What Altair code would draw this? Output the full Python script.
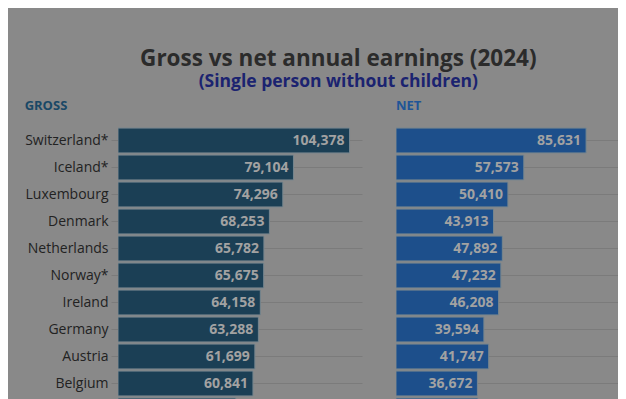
import altair as alt
import pandas as pd

countries = ["Switzerland*", "Iceland*", "Luxembourg", "Denmark", "Netherlands",
             "Norway*", "Ireland", "Germany", "Austria", "Belgium", "Finland"]
gross = [104378, 79104, 74296, 68253, 65782, 65675, 64158, 63288, 61699, 60841, 53100]
net = [85631, 57573, 50410, 43913, 47892, 47232, 46208, 39594, 41747, 36672, 36900]

df = pd.DataFrame({"country": countries, "gross": gross, "net": net})
df["gross_lbl"] = [f"{v:,}" for v in gross]
df["net_lbl"] = [f"{v:,}" for v in net]

FONT = "Open Sans"
BG = "#898989"
GRID = "#7b7b7b"
H = 297


def panel(field, lbl, color, header, header_color, show_labels, width, dmax):
    yaxis = alt.Axis(
        title=None, domain=False, grid=True, gridColor=GRID, gridWidth=1,
        bandPosition=0.5, ticks=show_labels, tickColor=GRID, tickSize=7,
        labels=show_labels, labelFont=FONT, labelFontSize=14, labelColor="#222222",
        labelPadding=3, labelLimit=200,
    )
    y = alt.Y("country:N", sort=countries, axis=yaxis,
              scale=alt.Scale(paddingInner=0.08, paddingOuter=0.04))
    x = alt.X(f"{field}:Q", axis=None, scale=alt.Scale(domain=[0, dmax], nice=False))
    base = alt.Chart(df)
    bars = base.mark_bar(color=color, stroke="#76868f", strokeWidth=1, clip=True).encode(x=x, y=y)
    halo = base.mark_text(align="right", baseline="middle", dx=-5, font=FONT, fontSize=14,
                          fontWeight="bold", stroke=color, strokeWidth=3, fill=color).encode(
        x=x, y=y, text=f"{lbl}:N")
    txt = base.mark_text(align="right", baseline="middle", dx=-5, font=FONT, fontSize=14,
                         fontWeight="bold", color="#a2a2a2").encode(x=x, y=y, text=f"{lbl}:N")
    return alt.layer(bars, halo, txt).properties(
        width=width, height=H,
        title=alt.TitleParams(header, anchor="start", font=FONT, fontSize=13,
                              fontWeight="bold", color=header_color, offset=14),
    )


left = panel("gross", "gross_lbl", "#1b3f55", "GROSS", "#1a4866", True, 244, 110000)
right = panel("net", "net_lbl", "#1d4f8b", "NET", "#1f5597", False, 222, 100000)

chart = alt.hconcat(left, right, spacing=34).properties(
    background=BG,
    padding={"left": 16, "top": 40, "right": 0, "bottom": 0},
    title=alt.TitleParams(
        "Gross vs net annual earnings (2024)",
        subtitle="(Single person without children)",
        anchor="middle", font=FONT, fontSize=22.5, fontWeight="bold", color="#2b2b2b",
        subtitleFont=FONT, subtitleFontSize=17.5, subtitleFontWeight="bold",
        subtitleColor="#1b2370", subtitlePadding=2, offset=10, dx=17,
    ),
).configure_view(stroke=None)

chart.save("out.html", embed_options={"renderer": "svg", "actions": False})
